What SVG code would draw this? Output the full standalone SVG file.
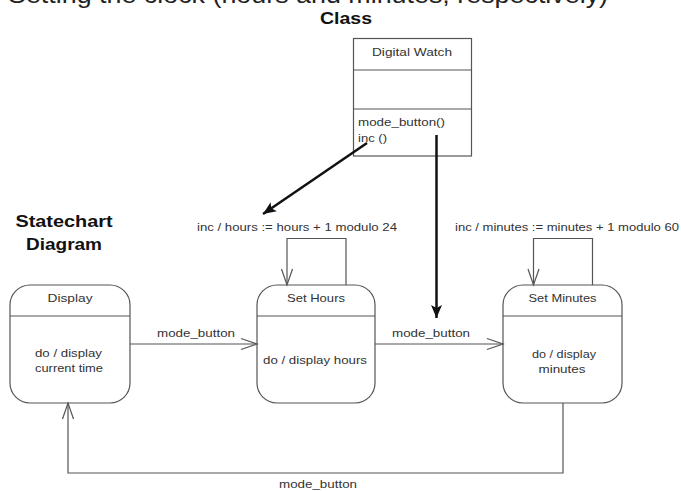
<svg xmlns="http://www.w3.org/2000/svg" width="681" height="491" viewBox="0 0 681 491">
<style>
  .t { font-family: "Liberation Sans", Arial, sans-serif; font-size: 11.5px; fill: #333; }
  .h { font-family: "Liberation Sans", Arial, sans-serif; font-size: 17px; font-weight: bold; fill: #111; }
  .top { font-family: "Liberation Sans", Arial, sans-serif; font-size: 23px; fill: #222; }
  .box { fill: #fff; stroke: #555; stroke-width: 1.2; }
  .div { stroke: #555; stroke-width: 1.2; }
  .tr { fill: none; stroke: #555; stroke-width: 1.2; marker-end: url(#open); }
  .dep { fill: none; stroke: #111; stroke-width: 2.5; marker-end: url(#solid); }
</style>
<defs>
  <marker id="open" markerUnits="userSpaceOnUse" markerWidth="18" markerHeight="13" refX="16" refY="5.5" orient="auto" overflow="visible">
    <path d="M0,0 L16,5.5 L0,11" fill="none" stroke="#555" stroke-width="1.2"/>
  </marker>
  <marker id="solid" markerUnits="userSpaceOnUse" markerWidth="14" markerHeight="12" refX="13" refY="5.5" orient="auto" overflow="visible">
    <path d="M0,0 L13,5.5 L0,11 L3,5.5 z" fill="#111"/>
  </marker>
</defs>
<rect width="681" height="491" fill="#fff"/>

<text class="top" x="8" y="3" textLength="600" lengthAdjust="spacingAndGlyphs">Setting the clock (hours and minutes, respectively)</text>
<text class="h" x="320" y="24" textLength="52" lengthAdjust="spacingAndGlyphs">Class</text>
<text class="h" x="64" y="227" text-anchor="middle" textLength="97" lengthAdjust="spacingAndGlyphs">Statechart</text>
<text class="h" x="64" y="250" text-anchor="middle" textLength="76" lengthAdjust="spacingAndGlyphs">Diagram</text>

<g id="class-digital-watch">
  <rect class="box" x="353.5" y="38.5" width="118" height="117.5"/>
  <line class="div" x1="353.5" y1="70" x2="471.5" y2="70"/>
  <line class="div" x1="353.5" y1="109" x2="471.5" y2="109"/>
  <text class="t" x="412" y="55.5" text-anchor="middle" textLength="80" lengthAdjust="spacingAndGlyphs">Digital Watch</text>
  <text class="t" x="358" y="125.5" textLength="87" lengthAdjust="spacingAndGlyphs">mode_button()</text>
  <text class="t" x="358" y="142" textLength="29" lengthAdjust="spacingAndGlyphs">inc ()</text>
</g>

<g id="state-display">
  <rect class="box" x="10" y="285" width="120" height="118" rx="20" ry="20"/>
  <line class="div" x1="10" y1="316" x2="130" y2="316"/>
  <text class="t" x="70" y="302" text-anchor="middle" textLength="45" lengthAdjust="spacingAndGlyphs">Display</text>
  <text class="t" x="68.5" y="357" text-anchor="middle" textLength="67" lengthAdjust="spacingAndGlyphs">do / display</text>
  <text class="t" x="69" y="372" text-anchor="middle" textLength="68" lengthAdjust="spacingAndGlyphs">current time</text>
</g>

<g id="state-set-hours">
  <rect class="box" x="257" y="285" width="118" height="118" rx="20" ry="20"/>
  <line class="div" x1="257" y1="316" x2="375" y2="316"/>
  <text class="t" x="316" y="302" text-anchor="middle" textLength="58" lengthAdjust="spacingAndGlyphs">Set Hours</text>
  <text class="t" x="315" y="364" text-anchor="middle" textLength="104" lengthAdjust="spacingAndGlyphs">do / display hours</text>
</g>

<g id="state-set-minutes">
  <rect class="box" x="503" y="285" width="119" height="118" rx="20" ry="20"/>
  <line class="div" x1="503" y1="316" x2="622" y2="316"/>
  <text class="t" x="562.5" y="302" text-anchor="middle" textLength="68" lengthAdjust="spacingAndGlyphs">Set Minutes</text>
  <text class="t" x="564" y="357.5" text-anchor="middle" textLength="64" lengthAdjust="spacingAndGlyphs">do / display</text>
  <text class="t" x="562" y="372.5" text-anchor="middle" textLength="47" lengthAdjust="spacingAndGlyphs">minutes</text>
</g>

<g id="connectors">
  <path class="tr" d="M130,344 L257,344"/>
  <text class="t" x="196" y="337" text-anchor="middle" textLength="78" lengthAdjust="spacingAndGlyphs">mode_button</text>

  <path class="tr" d="M375,344 L503,344"/>
  <text class="t" x="431" y="336.5" text-anchor="middle" textLength="78" lengthAdjust="spacingAndGlyphs">mode_button</text>

  <path class="tr" d="M563,403 L563,473 L68,473 L68,403"/>
  <text class="t" x="318" y="487.5" text-anchor="middle" textLength="78" lengthAdjust="spacingAndGlyphs">mode_button</text>

  <path class="tr" d="M346,285 L346,238.5 L287,238.5 L287,285"/>
  <text class="t" x="297" y="230.5" text-anchor="middle" textLength="200" lengthAdjust="spacingAndGlyphs">inc / hours := hours + 1 modulo 24</text>

  <path class="tr" d="M592.5,285 L592.5,238.5 L533.5,238.5 L533.5,285"/>
  <text class="t" x="455" y="230.5" textLength="224" lengthAdjust="spacingAndGlyphs">inc / minutes := minutes + 1 modulo 60</text>

  <path class="dep" d="M367,143 L263,214"/>
  <path class="dep" d="M436.5,135 L436.5,318"/>
</g>
</svg>
